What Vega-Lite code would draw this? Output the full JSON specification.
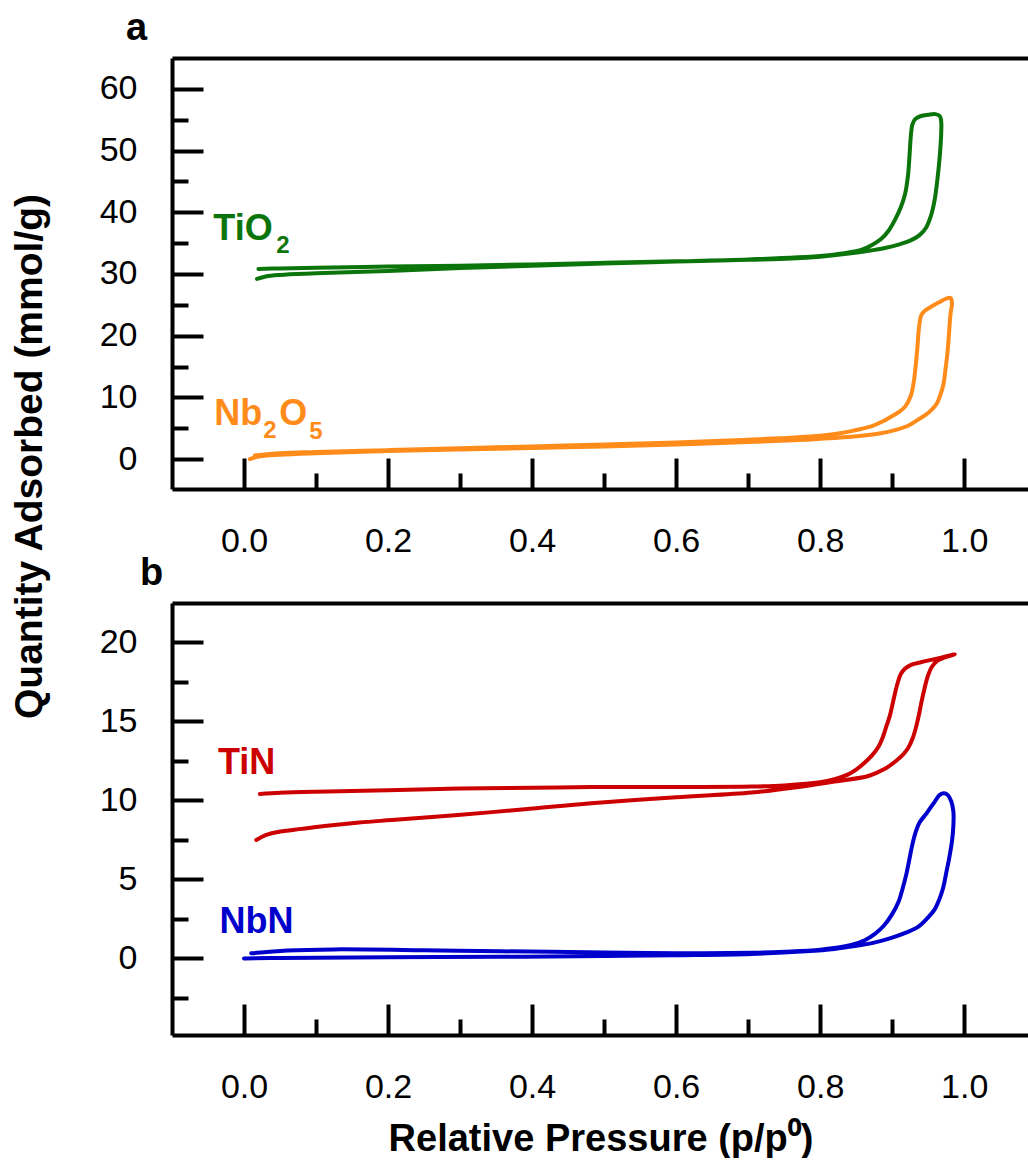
{
 "$schema": "https://vega.github.io/schema/vega-lite/v6.json",
 "background": "white",
 "padding": {"left": 10, "top": 10, "right": 0, "bottom": 0},
 "bounds": "flush",
 "spacing": 114,
 "config": {
  "font": "Liberation Sans",
  "view": {"stroke": null},
  "axis": {"grid": false, "labelFont": "Liberation Sans", "titleFont": "Liberation Sans", "labelColor": "black", "titleColor": "black", "domainColor": "black", "tickColor": "black", "tickCap": "butt"}
 },
 "datasets": {
  "a": [
   {"m":"TiO₂","i":1,"p":0.018,"q":29.2},{"m":"TiO₂","i":2,"p":0.03,"q":29.6},{"m":"TiO₂","i":3,"p":0.05,"q":29.85},{"m":"TiO₂","i":4,"p":0.1,"q":30.1},{"m":"TiO₂","i":5,"p":0.2,"q":30.5},{"m":"TiO₂","i":6,"p":0.3,"q":30.95},{"m":"TiO₂","i":7,"p":0.4,"q":31.35},{"m":"TiO₂","i":8,"p":0.5,"q":31.7},{"m":"TiO₂","i":9,"p":0.6,"q":32.0},{"m":"TiO₂","i":10,"p":0.7,"q":32.3},{"m":"TiO₂","i":11,"p":0.76,"q":32.5},{"m":"TiO₂","i":12,"p":0.8,"q":32.8},{"m":"TiO₂","i":13,"p":0.84,"q":33.3},{"m":"TiO₂","i":14,"p":0.87,"q":33.8},{"m":"TiO₂","i":15,"p":0.89,"q":34.2},{"m":"TiO₂","i":16,"p":0.91,"q":34.8},{"m":"TiO₂","i":17,"p":0.925,"q":35.4},{"m":"TiO₂","i":18,"p":0.938,"q":36.3},{"m":"TiO₂","i":19,"p":0.947,"q":37.5},{"m":"TiO₂","i":20,"p":0.954,"q":39.5},{"m":"TiO₂","i":21,"p":0.959,"q":42},{"m":"TiO₂","i":22,"p":0.963,"q":45.5},{"m":"TiO₂","i":23,"p":0.966,"q":49},{"m":"TiO₂","i":24,"p":0.968,"q":52.5},{"m":"TiO₂","i":25,"p":0.968,"q":54.8},{"m":"TiO₂","i":26,"p":0.966,"q":55.6},{"m":"TiO₂","i":27,"p":0.96,"q":55.9},{"m":"TiO₂","i":28,"p":0.95,"q":55.8},{"m":"TiO₂","i":29,"p":0.94,"q":55.6},{"m":"TiO₂","i":30,"p":0.932,"q":55.1},{"m":"TiO₂","i":31,"p":0.928,"q":54.2},{"m":"TiO₂","i":32,"p":0.926,"q":52.5},{"m":"TiO₂","i":33,"p":0.924,"q":49},{"m":"TiO₂","i":34,"p":0.922,"q":46},{"m":"TiO₂","i":35,"p":0.918,"q":43},{"m":"TiO₂","i":36,"p":0.912,"q":40.8},{"m":"TiO₂","i":37,"p":0.904,"q":38.8},{"m":"TiO₂","i":38,"p":0.895,"q":37.0},{"m":"TiO₂","i":39,"p":0.885,"q":35.7},{"m":"TiO₂","i":40,"p":0.872,"q":34.7},{"m":"TiO₂","i":41,"p":0.857,"q":33.9},{"m":"TiO₂","i":42,"p":0.83,"q":33.3},{"m":"TiO₂","i":43,"p":0.8,"q":32.9},{"m":"TiO₂","i":44,"p":0.7,"q":32.35},{"m":"TiO₂","i":45,"p":0.6,"q":32.05},{"m":"TiO₂","i":46,"p":0.5,"q":31.8},{"m":"TiO₂","i":47,"p":0.4,"q":31.55},{"m":"TiO₂","i":48,"p":0.3,"q":31.35},{"m":"TiO₂","i":49,"p":0.2,"q":31.2},{"m":"TiO₂","i":50,"p":0.1,"q":31.0},{"m":"TiO₂","i":51,"p":0.05,"q":30.9},{"m":"TiO₂","i":52,"p":0.02,"q":30.8},
   {"m":"Nb₂O₅","i":1,"p":0.008,"q":0.0},{"m":"Nb₂O₅","i":2,"p":0.02,"q":0.4},{"m":"Nb₂O₅","i":3,"p":0.05,"q":0.7},{"m":"Nb₂O₅","i":4,"p":0.1,"q":0.95},{"m":"Nb₂O₅","i":5,"p":0.2,"q":1.3},{"m":"Nb₂O₅","i":6,"p":0.3,"q":1.55},{"m":"Nb₂O₅","i":7,"p":0.4,"q":1.8},{"m":"Nb₂O₅","i":8,"p":0.5,"q":2.05},{"m":"Nb₂O₅","i":9,"p":0.6,"q":2.35},{"m":"Nb₂O₅","i":10,"p":0.7,"q":2.75},{"m":"Nb₂O₅","i":11,"p":0.78,"q":3.15},{"m":"Nb₂O₅","i":12,"p":0.843,"q":3.6},{"m":"Nb₂O₅","i":13,"p":0.88,"q":4.1},{"m":"Nb₂O₅","i":14,"p":0.904,"q":4.7},{"m":"Nb₂O₅","i":15,"p":0.922,"q":5.4},{"m":"Nb₂O₅","i":16,"p":0.936,"q":6.4},{"m":"Nb₂O₅","i":17,"p":0.947,"q":7.2},{"m":"Nb₂O₅","i":18,"p":0.955,"q":8.0},{"m":"Nb₂O₅","i":19,"p":0.962,"q":9.0},{"m":"Nb₂O₅","i":20,"p":0.966,"q":10.1},{"m":"Nb₂O₅","i":21,"p":0.971,"q":12},{"m":"Nb₂O₅","i":22,"p":0.974,"q":14.5},{"m":"Nb₂O₅","i":23,"p":0.977,"q":17.5},{"m":"Nb₂O₅","i":24,"p":0.979,"q":20.5},{"m":"Nb₂O₅","i":25,"p":0.981,"q":23.5},{"m":"Nb₂O₅","i":26,"p":0.983,"q":25.3},{"m":"Nb₂O₅","i":27,"p":0.981,"q":26.1},{"m":"Nb₂O₅","i":28,"p":0.975,"q":26.0},{"m":"Nb₂O₅","i":29,"p":0.965,"q":25.4},{"m":"Nb₂O₅","i":30,"p":0.953,"q":24.6},{"m":"Nb₂O₅","i":31,"p":0.944,"q":23.9},{"m":"Nb₂O₅","i":32,"p":0.94,"q":23.2},{"m":"Nb₂O₅","i":33,"p":0.937,"q":21},{"m":"Nb₂O₅","i":34,"p":0.935,"q":18},{"m":"Nb₂O₅","i":35,"p":0.933,"q":15.5},{"m":"Nb₂O₅","i":36,"p":0.93,"q":12.5},{"m":"Nb₂O₅","i":37,"p":0.926,"q":10.3},{"m":"Nb₂O₅","i":38,"p":0.918,"q":8.5},{"m":"Nb₂O₅","i":39,"p":0.909,"q":7.6},{"m":"Nb₂O₅","i":40,"p":0.899,"q":6.9},{"m":"Nb₂O₅","i":41,"p":0.885,"q":6.0},{"m":"Nb₂O₅","i":42,"p":0.871,"q":5.3},{"m":"Nb₂O₅","i":43,"p":0.85,"q":4.7},{"m":"Nb₂O₅","i":44,"p":0.834,"q":4.3},{"m":"Nb₂O₅","i":45,"p":0.8,"q":3.8},{"m":"Nb₂O₅","i":46,"p":0.7,"q":3.15},{"m":"Nb₂O₅","i":47,"p":0.6,"q":2.7},{"m":"Nb₂O₅","i":48,"p":0.5,"q":2.35},{"m":"Nb₂O₅","i":49,"p":0.4,"q":2.05},{"m":"Nb₂O₅","i":50,"p":0.3,"q":1.75},{"m":"Nb₂O₅","i":51,"p":0.2,"q":1.45},{"m":"Nb₂O₅","i":52,"p":0.1,"q":1.15},{"m":"Nb₂O₅","i":53,"p":0.05,"q":0.95},{"m":"Nb₂O₅","i":54,"p":0.015,"q":0.6}
  ],
  "b": [
   {"m":"TiN","i":1,"p":0.017,"q":7.5},{"m":"TiN","i":2,"p":0.03,"q":7.8},{"m":"TiN","i":3,"p":0.047,"q":8.0},{"m":"TiN","i":4,"p":0.08,"q":8.2},{"m":"TiN","i":5,"p":0.112,"q":8.38},{"m":"TiN","i":6,"p":0.16,"q":8.6},{"m":"TiN","i":7,"p":0.205,"q":8.76},{"m":"TiN","i":8,"p":0.297,"q":9.08},{"m":"TiN","i":9,"p":0.39,"q":9.44},{"m":"TiN","i":10,"p":0.482,"q":9.82},{"m":"TiN","i":11,"p":0.6,"q":10.2},{"m":"TiN","i":12,"p":0.705,"q":10.5},{"m":"TiN","i":13,"p":0.77,"q":10.85},{"m":"TiN","i":14,"p":0.82,"q":11.2},{"m":"TiN","i":15,"p":0.867,"q":11.55},{"m":"TiN","i":16,"p":0.89,"q":12.0},{"m":"TiN","i":17,"p":0.904,"q":12.45},{"m":"TiN","i":18,"p":0.915,"q":12.9},{"m":"TiN","i":19,"p":0.922,"q":13.3},{"m":"TiN","i":20,"p":0.929,"q":14.0},{"m":"TiN","i":21,"p":0.934,"q":14.8},{"m":"TiN","i":22,"p":0.938,"q":15.6},{"m":"TiN","i":23,"p":0.941,"q":16.3},{"m":"TiN","i":24,"p":0.945,"q":17.1},{"m":"TiN","i":25,"p":0.949,"q":17.8},{"m":"TiN","i":26,"p":0.955,"q":18.45},{"m":"TiN","i":27,"p":0.963,"q":18.85},{"m":"TiN","i":28,"p":0.973,"q":19.05},{"m":"TiN","i":29,"p":0.987,"q":19.25},{"m":"TiN","i":30,"p":0.959,"q":18.95},{"m":"TiN","i":31,"p":0.94,"q":18.75},{"m":"TiN","i":32,"p":0.927,"q":18.6},{"m":"TiN","i":33,"p":0.918,"q":18.35},{"m":"TiN","i":34,"p":0.912,"q":18.0},{"m":"TiN","i":35,"p":0.908,"q":17.5},{"m":"TiN","i":36,"p":0.904,"q":16.8},{"m":"TiN","i":37,"p":0.901,"q":16.2},{"m":"TiN","i":38,"p":0.897,"q":15.4},{"m":"TiN","i":39,"p":0.892,"q":14.7},{"m":"TiN","i":40,"p":0.887,"q":14.0},{"m":"TiN","i":41,"p":0.881,"q":13.4},{"m":"TiN","i":42,"p":0.872,"q":12.85},{"m":"TiN","i":43,"p":0.862,"q":12.4},{"m":"TiN","i":44,"p":0.85,"q":11.95},{"m":"TiN","i":45,"p":0.839,"q":11.65},{"m":"TiN","i":46,"p":0.82,"q":11.35},{"m":"TiN","i":47,"p":0.8,"q":11.15},{"m":"TiN","i":48,"p":0.75,"q":10.95},{"m":"TiN","i":49,"p":0.705,"q":10.88},{"m":"TiN","i":50,"p":0.6,"q":10.85},{"m":"TiN","i":51,"p":0.482,"q":10.85},{"m":"TiN","i":52,"p":0.4,"q":10.8},{"m":"TiN","i":53,"p":0.3,"q":10.75},{"m":"TiN","i":54,"p":0.2,"q":10.65},{"m":"TiN","i":55,"p":0.1,"q":10.55},{"m":"TiN","i":56,"p":0.05,"q":10.48},{"m":"TiN","i":57,"p":0.022,"q":10.41},
   {"m":"NbN","i":1,"p":0.0,"q":0.0},{"m":"NbN","i":2,"p":0.05,"q":0.03},{"m":"NbN","i":3,"p":0.2,"q":0.07},{"m":"NbN","i":4,"p":0.357,"q":0.1},{"m":"NbN","i":5,"p":0.5,"q":0.15},{"m":"NbN","i":6,"p":0.6,"q":0.2},{"m":"NbN","i":7,"p":0.705,"q":0.28},{"m":"NbN","i":8,"p":0.78,"q":0.45},{"m":"NbN","i":9,"p":0.82,"q":0.6},{"m":"NbN","i":10,"p":0.843,"q":0.75},{"m":"NbN","i":11,"p":0.875,"q":1.0},{"m":"NbN","i":12,"p":0.899,"q":1.3},{"m":"NbN","i":13,"p":0.92,"q":1.65},{"m":"NbN","i":14,"p":0.936,"q":2.0},{"m":"NbN","i":15,"p":0.948,"q":2.5},{"m":"NbN","i":16,"p":0.959,"q":3.1},{"m":"NbN","i":17,"p":0.966,"q":3.8},{"m":"NbN","i":18,"p":0.971,"q":4.5},{"m":"NbN","i":19,"p":0.975,"q":5.4},{"m":"NbN","i":20,"p":0.979,"q":6.3},{"m":"NbN","i":21,"p":0.983,"q":7.4},{"m":"NbN","i":22,"p":0.985,"q":8.4},{"m":"NbN","i":23,"p":0.985,"q":9.3},{"m":"NbN","i":24,"p":0.982,"q":9.95},{"m":"NbN","i":25,"p":0.977,"q":10.35},{"m":"NbN","i":26,"p":0.972,"q":10.46},{"m":"NbN","i":27,"p":0.966,"q":10.35},{"m":"NbN","i":28,"p":0.958,"q":9.85},{"m":"NbN","i":29,"p":0.948,"q":9.2},{"m":"NbN","i":30,"p":0.938,"q":8.6},{"m":"NbN","i":31,"p":0.932,"q":7.9},{"m":"NbN","i":32,"p":0.928,"q":7.2},{"m":"NbN","i":33,"p":0.924,"q":6.3},{"m":"NbN","i":34,"p":0.92,"q":5.4},{"m":"NbN","i":35,"p":0.915,"q":4.5},{"m":"NbN","i":36,"p":0.909,"q":3.6},{"m":"NbN","i":37,"p":0.9,"q":2.8},{"m":"NbN","i":38,"p":0.889,"q":2.1},{"m":"NbN","i":39,"p":0.876,"q":1.55},{"m":"NbN","i":40,"p":0.862,"q":1.15},{"m":"NbN","i":41,"p":0.843,"q":0.85},{"m":"NbN","i":42,"p":0.8,"q":0.55},{"m":"NbN","i":43,"p":0.75,"q":0.42},{"m":"NbN","i":44,"p":0.705,"q":0.36},{"m":"NbN","i":45,"p":0.6,"q":0.33},{"m":"NbN","i":46,"p":0.5,"q":0.38},{"m":"NbN","i":47,"p":0.357,"q":0.45},{"m":"NbN","i":48,"p":0.25,"q":0.52},{"m":"NbN","i":49,"p":0.125,"q":0.57},{"m":"NbN","i":50,"p":0.06,"q":0.5},{"m":"NbN","i":51,"p":0.01,"q":0.32}
  ],
  "la": [{"m":"TiO₂","t":"TiO","p":-0.0426,"q":35.45},{"m":"Nb₂O₅","t":"Nb","p":-0.0412,"q":5.54},{"m":"Nb₂O₅","t":"O","p":0.049,"q":5.54}],
  "sa": [{"m":"TiO₂","t":"2","p":0.0449,"q":33.37},{"m":"Nb₂O₅","t":"2","p":0.0268,"q":3.44},{"m":"Nb₂O₅","t":"5","p":0.0907,"q":3.27}],
  "lb": [{"m":"TiN","t":"TiN","p":-0.0361,"q":11.68},{"m":"NbN","t":"NbN","p":-0.0339,"q":1.62}]
 },
 "vconcat": [
  {
   "width": 857, "height": 431,
   "title": {"text": "a", "anchor": "start", "frame": "group", "dx": -46, "fontSize": 38, "fontWeight": "bold", "color": "black", "offset": 10},
   "data": {"name": "a"},
   "layer": [
    {
     "mark": {"type": "line", "strokeWidth": 4, "interpolate": "catmull-rom", "strokeJoin": "round", "strokeCap": "round"},
     "encoding": {
      "x": {"field": "p", "type": "quantitative", "scale": {"domain": [-0.1, 1.09], "nice": false, "zero": false},
            "axis": {"orient": "bottom", "values": [0, 0.2, 0.4, 0.6, 0.8, 1], "format": ".1f", "ticks": false, "domainWidth": 4, "labelFontSize": 34, "labelPadding": 35, "labelFlush": false, "labelOverlap": false, "title": null}},
      "y": {"field": "q", "type": "quantitative", "scale": {"domain": [-4.85, 65], "nice": false, "zero": false},
            "axis": {"orient": "left", "values": [0, 10, 20, 30, 40, 50, 60], "ticks": false, "domainWidth": 4, "labelFontSize": 34, "labelPadding": 35, "labelOverlap": false,
                     "title": "Quantity Adsorbed (mmol/g)", "titleFontSize": 39, "titleFontWeight": "bold", "titleX": -123, "titleY": 398, "titleAngle": 270, "titleAlign": "center", "titleBaseline": "bottom"}},
      "color": {"field": "m", "type": "nominal", "scale": {"domain": ["TiO₂", "Nb₂O₅", "TiN", "NbN"], "range": ["#0b750b", "#ff8c1a", "#cc0000", "#0000cc"]}, "legend": null},
      "order": {"field": "i", "type": "quantitative"}
     }
    },
    {
     "mark": {"type": "point", "opacity": 0},
     "encoding": {
      "x": {"field": "p", "type": "quantitative", "axis": {"orient": "bottom", "values": [0, 0.2, 0.4, 0.6, 0.8, 1], "labels": false, "domain": false, "tickSize": -31, "tickWidth": 4, "title": null}},
      "y": {"field": "q", "type": "quantitative", "axis": {"orient": "left", "values": [0, 10, 20, 30, 40, 50, 60], "labels": false, "domain": false, "tickSize": -31, "tickWidth": 4, "title": null}}
     }
    },
    {
     "mark": {"type": "point", "opacity": 0},
     "encoding": {
      "x": {"field": "p", "type": "quantitative", "axis": {"orient": "bottom", "values": [0.1, 0.3, 0.5, 0.7, 0.9], "labels": false, "domain": false, "tickSize": -16, "tickWidth": 4, "title": null}},
      "y": {"field": "q", "type": "quantitative", "axis": {"orient": "left", "values": [5, 15, 25, 35, 45, 55], "labels": false, "domain": false, "tickSize": -16, "tickWidth": 4, "title": null}}
     }
    },
    {
     "data": {"name": "la"},
     "mark": {"type": "text", "align": "left", "baseline": "alphabetic", "fontSize": 36, "fontWeight": "bold"},
     "encoding": {
      "x": {"field": "p", "type": "quantitative", "axis": {"orient": "top", "labels": false, "ticks": false, "domain": true, "domainWidth": 4, "title": null}},
      "y": {"field": "q", "type": "quantitative", "axis": null},
      "text": {"field": "t"},
      "color": {"field": "m", "type": "nominal", "legend": null}
     }
    },
    {
     "data": {"name": "sa"},
     "mark": {"type": "text", "align": "left", "baseline": "alphabetic", "fontSize": 24, "fontWeight": "bold"},
     "encoding": {
      "x": {"field": "p", "type": "quantitative", "axis": null},
      "y": {"field": "q", "type": "quantitative", "axis": null},
      "text": {"field": "t"},
      "color": {"field": "m", "type": "nominal", "legend": null}
     }
    }
   ],
   "resolve": {"axis": {"x": "independent", "y": "independent"}}
  },
  {
   "width": 857, "height": 432,
   "title": {"text": "b", "anchor": "start", "frame": "group", "dx": -32, "fontSize": 38, "fontWeight": "bold", "color": "black", "offset": 10},
   "data": {"name": "b"},
   "layer": [
    {
     "mark": {"type": "line", "strokeWidth": 4, "interpolate": "catmull-rom", "strokeJoin": "round", "strokeCap": "round"},
     "encoding": {
      "x": {"field": "p", "type": "quantitative", "scale": {"domain": [-0.1, 1.09], "nice": false, "zero": false},
            "axis": {"orient": "bottom", "values": [0, 0.2, 0.4, 0.6, 0.8, 1], "format": ".1f", "ticks": false, "domainWidth": 4, "labelFontSize": 34, "labelPadding": 35, "labelFlush": false, "labelOverlap": false,
                     "title": "Relative Pressure (p/p⁰)", "titleFontSize": 38, "titleFontWeight": "bold", "titleY": 115, "titleBaseline": "alphabetic"}},
      "y": {"field": "q", "type": "quantitative", "scale": {"domain": [-4.85, 22.5], "nice": false, "zero": false},
            "axis": {"orient": "left", "values": [0, 5, 10, 15, 20], "ticks": false, "domainWidth": 4, "labelFontSize": 34, "labelPadding": 35, "labelOverlap": false, "title": null}},
      "color": {"field": "m", "type": "nominal", "scale": {"domain": ["TiO₂", "Nb₂O₅", "TiN", "NbN"], "range": ["#0b750b", "#ff8c1a", "#cc0000", "#0000cc"]}, "legend": null},
      "order": {"field": "i", "type": "quantitative"}
     }
    },
    {
     "mark": {"type": "point", "opacity": 0},
     "encoding": {
      "x": {"field": "p", "type": "quantitative", "axis": {"orient": "bottom", "values": [0, 0.2, 0.4, 0.6, 0.8, 1], "labels": false, "domain": false, "tickSize": -31, "tickWidth": 4, "title": null}},
      "y": {"field": "q", "type": "quantitative", "axis": {"orient": "left", "values": [0, 5, 10, 15, 20], "labels": false, "domain": false, "tickSize": -31, "tickWidth": 4, "title": null}}
     }
    },
    {
     "mark": {"type": "point", "opacity": 0},
     "encoding": {
      "x": {"field": "p", "type": "quantitative", "axis": {"orient": "bottom", "values": [0.1, 0.3, 0.5, 0.7, 0.9], "labels": false, "domain": false, "tickSize": -16, "tickWidth": 4, "title": null}},
      "y": {"field": "q", "type": "quantitative", "axis": {"orient": "left", "values": [-2.5, 2.5, 7.5, 12.5, 17.5], "labels": false, "domain": false, "tickSize": -16, "tickWidth": 4, "title": null}}
     }
    },
    {
     "data": {"name": "lb"},
     "mark": {"type": "text", "align": "left", "baseline": "alphabetic", "fontSize": 36, "fontWeight": "bold"},
     "encoding": {
      "x": {"field": "p", "type": "quantitative", "axis": {"orient": "top", "labels": false, "ticks": false, "domain": true, "domainWidth": 4, "title": null}},
      "y": {"field": "q", "type": "quantitative", "axis": null},
      "text": {"field": "t"},
      "color": {"field": "m", "type": "nominal", "legend": null}
     }
    }
   ],
   "resolve": {"axis": {"x": "independent", "y": "independent"}}
  }
 ]
}
